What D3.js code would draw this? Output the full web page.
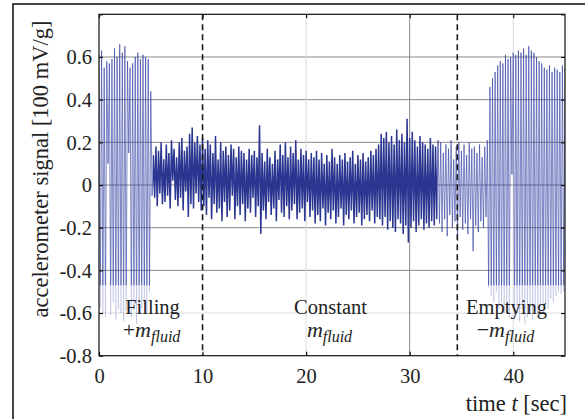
<!DOCTYPE html>
<html><head><meta charset="utf-8">
<script src="https://cdn.jsdelivr.net/npm/d3@7"></script>
<style>body{margin:0;background:#fff}svg{display:block}</style>
</head><body><svg id="c" width="585" height="419"></svg>
<script>
// ---- data ----
const sampleStep = 0.125; // seconds between samples
const signal = [
 0.61,-0.58,0.63,-0.60,0.55,-0.62,0.58,0.10,0.57,-0.61,
 0.59,-0.55,0.64,-0.63,0.60,-0.58,0.66,-0.60,0.62,-0.64,
 0.65,-0.59,0.58,0.15,0.55,-0.62,0.57,-0.57,0.60,-0.65,
 0.62,-0.60,0.59,-0.58,0.61,-0.56,0.60,-0.60,0.59,-0.50,
 0.44,-0.05,
 0.14,-0.06,0.18,-0.10,0.16,-0.04,0.20,-0.09,0.12,-0.08,
 0.19,-0.05,0.15,-0.11,0.21,0.02,0.17,-0.07,0.13,-0.10,
 0.20,-0.06,0.22,-0.12,0.16,-0.03,0.18,-0.15,0.24,-0.09,
 0.27,-0.11,0.20,-0.04,0.23,-0.08,0.19,-0.12,
 0.22,-0.10,0.17,-0.14,0.21,-0.06,0.19,-0.16,0.15,-0.09,
 0.23,-0.13,0.12,-0.11,0.20,-0.17,0.16,-0.08,0.18,-0.15,
 0.14,-0.12,0.19,-0.05,0.17,-0.16,0.13,-0.10,0.18,-0.14,
 0.16,-0.09,0.15,-0.17,0.12,-0.11,0.17,-0.13,0.14,-0.06,
 0.16,-0.15,0.13,-0.10,
 0.28,-0.23,
 0.15,-0.12,0.11,-0.16,0.17,-0.08,0.13,-0.14,0.10,-0.11,
 0.16,-0.17,0.12,-0.07,0.19,-0.13,0.14,-0.15,0.20,-0.10,
 0.13,-0.16,0.18,-0.12,0.15,-0.09,0.21,-0.16,0.12,-0.13,
 0.17,-0.11,0.14,-0.17,0.16,-0.08,0.12,-0.15,0.15,-0.12,
 0.13,-0.18,0.16,
 -0.14,0.12,-0.17,0.15,-0.11,0.10,-0.19,0.14,-0.13,0.11,
 -0.16,0.17,-0.12,0.13,-0.18,0.10,-0.15,0.14,-0.11,0.12,
 -0.19,0.15,-0.14,0.11,-0.16,0.13,-0.12,0.16,-0.18,0.10,
 -0.15,0.14,-0.13,0.12,-0.19,0.15,-0.16,0.11,-0.14,0.13,
 -0.17,0.16,-0.12,0.14,-0.18,0.17,-0.15,0.19,
 -0.16,0.24,-0.19,0.22,-0.15,0.25,-0.21,0.20,-0.17,0.23,
 -0.20,0.19,-0.22,0.26,-0.16,0.21,-0.18,0.24,-0.23,0.20,
 -0.19,0.31,-0.27,0.22,-0.20,0.25,-0.17,0.21,-0.22,0.18,
 -0.19,0.23,-0.16,0.20,-0.21,0.19,-0.18,0.17,-0.20,0.22,
 -0.17,0.19,-0.19,0.18,-0.16,0.21,
 -0.18,0.20,-0.22,0.15,-0.16,0.19,-0.24,0.17,-0.14,0.21,
 -0.20,0.12,-0.17,0.18,-0.26,0.20,-0.15,0.16,-0.21,0.19,
 -0.18,0.14,-0.23,0.20,-0.16,0.17,-0.31,0.18,-0.19,0.15,
 -0.22,0.19,-0.17,0.13,-0.20,0.18,-0.15,0.21,
 -0.48,0.46,-0.52,0.50,-0.55,0.53,-0.50,0.56,-0.58,0.58,
 -0.55,0.57,-0.60,0.61,-0.57,0.59,-0.62,0.60,0.05,0.62,
 -0.63,0.61,-0.60,0.63,-0.64,0.62,-0.58,0.64,-0.65,0.61,
 -0.62,0.65,-0.60,0.63,-0.63,0.62,-0.59,0.60,-0.61,0.58,
 -0.57,0.57,-0.60,0.55,-0.56,0.54,-0.58,0.56,-0.53,0.53,
 -0.55,0.55,-0.52,0.54,-0.50,0.53,-0.51,0.56,-0.50,0.55
];
const xTickValues = [0, 10, 20, 30, 40];
const xTickLabels = ["0", "10", "20", "30", "40"];
const yTickValues = [-0.8, -0.6, -0.4, -0.2, 0, 0.2, 0.4, 0.6, 0.8];
const yTickLabels = ["-0.8", "-0.6", "-0.4", "-0.2", "0", "0.2", "0.4", "0.6", ""];
const phaseBoundaries = [10, 34.6];
const phaseNames = ["Filling", "Constant", "Emptying"];
const phaseSigns = ["+", "", "\u2212"];
const denseSpan = [5.2, 32.7];

// ---- layout ----
const svg = d3.select("#c");
const L = 99, R = 565, T = 14.3, B = 355.7;
const x = d3.scaleLinear().domain([0, 45]).range([L, R]);
const y = d3.scaleLinear().domain([-0.8, 0.8]).range([B, T]);
const serif = "Liberation Serif, Times New Roman, serif";

// outer frame
svg.append("rect").attr("x", 13).attr("y", 4).attr("width", 600).attr("height", 440)
  .attr("fill", "#fff").attr("stroke", "#1a1a1a").attr("stroke-width", 1.6);

// grid
const darkGridY = [0.6, 0.4, 0.2, 0, -0.2, -0.4];
svg.append("g").selectAll("line").data(yTickValues.filter(v => v > -0.75 && v < 0.75))
  .join("line")
  .attr("x1", L).attr("x2", R).attr("y1", d => y(d)).attr("y2", d => y(d))
  .attr("stroke", d => darkGridY.some(g => Math.abs(g - d) < 1e-9) ? "#8a8a8a" : "#dadada")
  .attr("stroke-width", 1);
svg.append("g").selectAll("line").data(xTickValues.filter(v => v > 0 && v !== 10))
  .join("line")
  .attr("y1", T).attr("y2", B).attr("x1", d => x(d)).attr("x2", d => x(d))
  .attr("stroke", d => d === 30 ? "#8a8a8a" : "#dadada").attr("stroke-width", 1);

// signal
const pts = signal.map((v, i) => [i * sampleStep, v]);
const line = d3.line().x(d => x(d[0])).y(d => y(d[1]));
const defs = svg.append("defs");
const cDense = defs.append("clipPath").attr("id", "cDense");
cDense.append("rect").attr("x", x(denseSpan[0])).attr("y", T).attr("width", x(denseSpan[1]) - x(denseSpan[0])).attr("height", B - T);
const fade = -0.47;
const cLightTop = defs.append("clipPath").attr("id", "cLightTop");
cLightTop.append("rect").attr("x", L).attr("y", T).attr("width", x(denseSpan[0]) - L).attr("height", y(fade) - T);
cLightTop.append("rect").attr("x", x(denseSpan[1])).attr("y", T).attr("width", R - x(denseSpan[1])).attr("height", y(fade) - T);
const cLightBot = defs.append("clipPath").attr("id", "cLightBot");
cLightBot.append("rect").attr("x", L).attr("y", y(fade)).attr("width", x(denseSpan[0]) - L).attr("height", B - y(fade));
cLightBot.append("rect").attr("x", x(denseSpan[1])).attr("y", y(fade)).attr("width", R - x(denseSpan[1])).attr("height", B - y(fade));

svg.append("path").datum(pts).attr("d", line).attr("clip-path", "url(#cDense)")
  .attr("fill", "none").attr("stroke", "#2a3690").attr("stroke-width", 1.5).attr("stroke-linejoin", "bevel");
svg.append("path").datum(pts).attr("d", line).attr("clip-path", "url(#cLightTop)")
  .attr("fill", "none").attr("stroke", "#3442a3").attr("stroke-width", 0.75).attr("stroke-opacity", 0.85);
svg.append("path").datum(pts).attr("d", line).attr("clip-path", "url(#cLightBot)")
  .attr("fill", "none").attr("stroke", "#6a74c0").attr("stroke-width", 0.7).attr("stroke-opacity", 0.35);

// phase boundaries
svg.append("g").selectAll("line").data(phaseBoundaries).join("line")
  .attr("x1", d => x(d)).attr("x2", d => x(d)).attr("y1", T).attr("y2", B)
  .attr("stroke", "#1a1a1a").attr("stroke-width", 1.6).attr("stroke-dasharray", "6,4");

// axes box
svg.append("rect").attr("x", L).attr("y", T).attr("width", R - L).attr("height", B - T)
  .attr("fill", "none").attr("stroke", "#111").attr("stroke-width", 1.2);

const tick = 4;
const yAxisL = d3.axisLeft(y).tickValues(yTickValues).tickSize(-tick).tickFormat((d, i) => yTickLabels[i]).tickPadding(7);
const gy = svg.append("g").attr("transform", `translate(${L},0)`).call(yAxisL);
const yAxisR = d3.axisRight(y).tickValues(yTickValues).tickSize(-tick).tickFormat("");
const gyr = svg.append("g").attr("transform", `translate(${R},0)`).call(yAxisR);
const xAxisB = d3.axisBottom(x).tickValues(xTickValues).tickSize(-tick).tickFormat((d, i) => xTickLabels[i]).tickPadding(12);
const gx = svg.append("g").attr("transform", `translate(0,${B})`).call(xAxisB);
const xAxisT = d3.axisTop(x).tickValues(xTickValues).tickSize(-tick).tickFormat("");
const gxt = svg.append("g").attr("transform", `translate(0,${T})`).call(xAxisT);
[gy, gyr, gx, gxt].forEach(g => {
  g.attr("font-family", serif).attr("font-size", 20.5);
  g.select(".domain").remove();
  g.selectAll(".tick line").attr("stroke", "#111").attr("stroke-width", 1.2);
  g.selectAll("text").attr("fill", "#222");
});
gy.selectAll("text").attr("dy", "0.33em");
gx.selectAll("text").attr("dy", "0.75em");

// axis titles
svg.append("text").attr("transform", `translate(48,169) rotate(-90)`)
  .attr("text-anchor", "middle").attr("font-family", serif).attr("font-size", 22.5).attr("fill", "#222")
  .text("accelerometer signal [100 mV/g]");
const xt = svg.append("text").attr("x", 567).attr("y", 411).attr("text-anchor", "end")
  .attr("font-family", serif).attr("font-size", 22.5).attr("fill", "#222");
xt.append("tspan").text("time ");
xt.append("tspan").attr("font-style", "italic").text("t");
xt.append("tspan").text(" [sec]");

// phase annotations
const labelX = [152.5, 330.5, 506.5];
phaseNames.forEach((name, i) => {
  svg.append("text").attr("x", labelX[i]).attr("y", 314).attr("text-anchor", "middle")
    .attr("font-family", serif).attr("font-size", 20.5).attr("fill", "#222").text(name);
  const m = svg.append("text").attr("x", labelX[i] - 1).attr("y", 336.5).attr("text-anchor", "middle")
    .attr("font-family", serif).attr("font-size", 22).attr("fill", "#222");
  m.append("tspan").text(phaseSigns[i]);
  m.append("tspan").attr("font-style", "italic").text("m");
  m.append("tspan").attr("font-style", "italic").attr("font-size", 16).attr("dy", 5).text("fluid");
});
</script></body></html>
